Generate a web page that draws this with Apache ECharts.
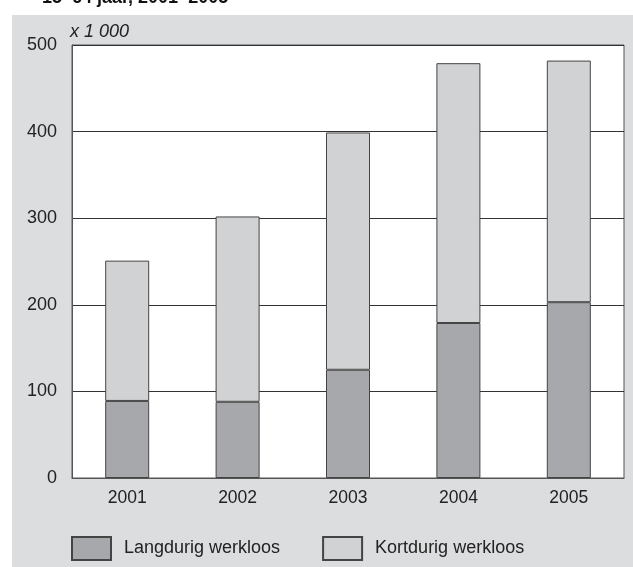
<!DOCTYPE html>
<html>
<head>
<meta charset="utf-8">
<script src="https://cdn.jsdelivr.net/npm/echarts@6/dist/echarts.min.js"></script>
<style>
html,body{margin:0;padding:0;background:#fff;}
#c{width:633px;height:567px;}
</style>
</head>
<body>
<div id="c"></div>
<script>
const titleText = '15–64 jaar, 2001–2005';
const unitText = 'x 1 000';
const years = ['2001', '2002', '2003', '2004', '2005'];
const langdurig = [89, 88, 125, 179, 203];
const kortdurig = [162, 214, 274, 300, 279];
const seriesNames = ['Langdurig werkloos', 'Kortdurig werkloos'];

const FONT = '"Liberation Sans", Arial, Helvetica, sans-serif';
const chart = echarts.init(document.getElementById('c'), null, {renderer: 'canvas'});
chart.setOption({
  animation: false,
  backgroundColor: '#ffffff',
  textStyle: {fontFamily: FONT},
  graphic: [
    {type: 'rect', z: -10, silent: true, shape: {x: 12, y: 15, width: 621, height: 552}, style: {fill: '#dcdddf'}},
    {type: 'text', left: 42, top: -11, style: {text: titleText, font: 'bold 18px ' + FONT, fill: '#111'}},
    {type: 'text', left: 70, top: 23, style: {text: unitText, font: 'italic 18px ' + FONT, fill: '#222'}}
  ],
  grid: {left: 72, right: 9, top: 45, bottom: 89, show: true, backgroundColor: '#ffffff', borderColor: '#555', borderWidth: 1},
  legend: {
    left: 71, top: 536, itemWidth: 39, itemHeight: 23, itemGap: 42, padding: 0,
    icon: 'rect',
    textStyle: {fontSize: 18, color: '#222', fontFamily: FONT, padding: [0, 0, 0, 8]},
    data: seriesNames
  },
  xAxis: {
    type: 'category', data: years,
    axisLine: {show: true, lineStyle: {color: '#555', width: 1}},
    axisTick: {show: false},
    axisLabel: {fontSize: 17.5, color: '#222', margin: 11}
  },
  yAxis: {
    type: 'value', min: 0, max: 500, interval: 100,
    axisLine: {show: true, lineStyle: {color: '#555', width: 1}},
    axisTick: {show: false},
    axisLabel: {fontSize: 18, color: '#222', margin: 15},
    splitLine: {show: true, lineStyle: {color: '#333', width: 1}}
  },
  series: [
    {name: seriesNames[0], type: 'bar', stack: 'tot', data: langdurig, barWidth: 44,
     itemStyle: {color: '#a7a8ab', borderColor: '#444', borderWidth: 1}},
    {name: seriesNames[1], type: 'bar', stack: 'tot', data: kortdurig, barWidth: 44,
     itemStyle: {color: '#d1d2d4', borderColor: '#444', borderWidth: 1}}
  ]
});
</script>
</body>
</html>
